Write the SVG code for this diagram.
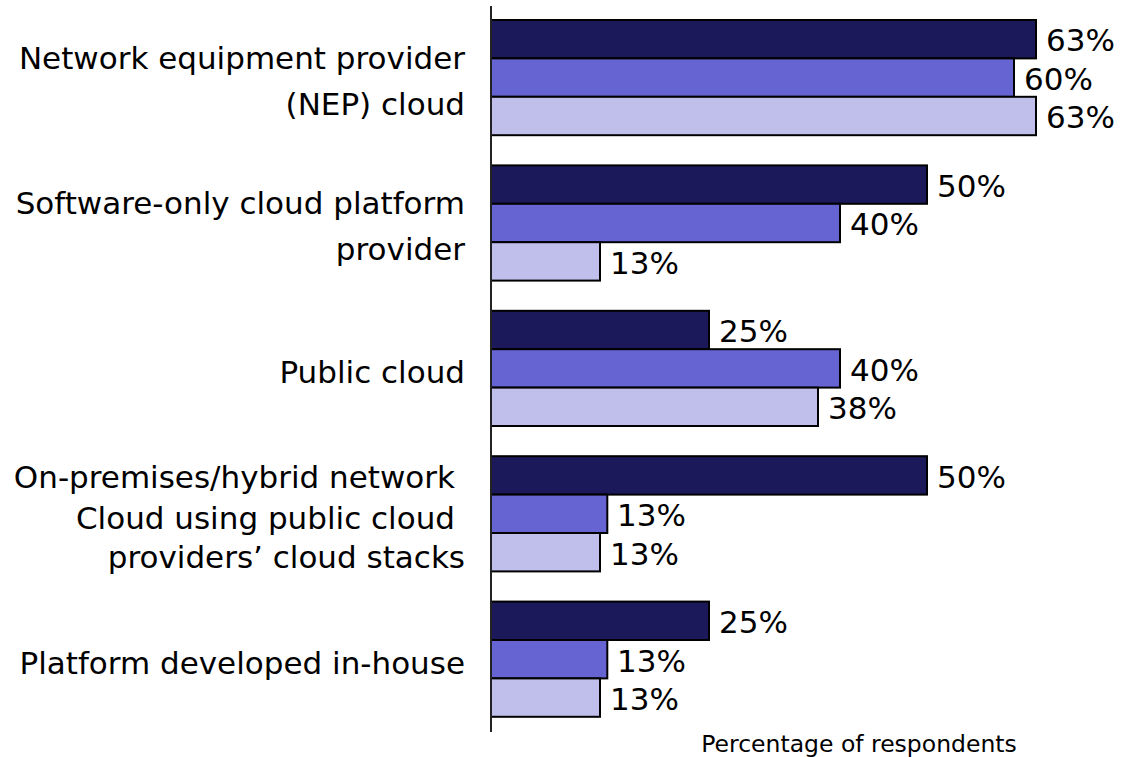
<svg xmlns="http://www.w3.org/2000/svg" width="1138" height="757" viewBox="0 0 1138 757">
<style>
text{font-family:"DejaVu Sans","Liberation Sans",sans-serif;fill:#000}
.cat{font-size:31px;text-anchor:end}
.val{font-size:31px}
.b1{fill:#1B1959;stroke:#000;stroke-width:2}
.b2{fill:#6663D2;stroke:#000;stroke-width:2}
.b3{fill:#C0BFEC;stroke:#000;stroke-width:2}
.axis{stroke:#222;stroke-width:2}
</style>
<rect width="1138" height="757" fill="#fff"/>
<g id="nep">
<text class="cat" x="465" y="69">Network equipment provider</text>
<text class="cat" x="465" y="115">(NEP) cloud</text>
<rect class="b1" x="491" y="20" width="545" height="38.4"/>
<rect class="b2" x="491" y="58.4" width="523" height="38.4"/>
<rect class="b3" x="491" y="96.8" width="545" height="38.4"/>
<text class="val" x="1046" y="51">63%</text>
<text class="val" x="1024" y="89.5">60%</text>
<text class="val" x="1046" y="128">63%</text>
</g>
<g id="software">
<text class="cat" x="465" y="214">Software-only cloud platform</text>
<text class="cat" x="465" y="260">provider</text>
<rect class="b1" x="491" y="165.4" width="436" height="38.4"/>
<rect class="b2" x="491" y="203.8" width="349" height="38.4"/>
<rect class="b3" x="491" y="242.2" width="109" height="38.4"/>
<text class="val" x="937" y="196.5">50%</text>
<text class="val" x="850" y="235">40%</text>
<text class="val" x="610" y="273.5">13%</text>
</g>
<g id="public">
<text class="cat" x="465" y="383">Public cloud</text>
<rect class="b1" x="491" y="310.8" width="218" height="38.4"/>
<rect class="b2" x="491" y="349.2" width="349" height="38.4"/>
<rect class="b3" x="491" y="387.6" width="327" height="38.4"/>
<text class="val" x="719" y="342">25%</text>
<text class="val" x="850" y="380.5">40%</text>
<text class="val" x="828" y="419">38%</text>
</g>
<g id="onprem">
<text class="cat" x="455" y="488">On-premises/hybrid network</text>
<text class="cat" x="455" y="529">Cloud using public cloud</text>
<text class="cat" x="465" y="568">providers’ cloud stacks</text>
<rect class="b1" x="491" y="456.2" width="436" height="38.4"/>
<rect class="b2" x="491" y="494.6" width="116.3" height="38.4"/>
<rect class="b3" x="491" y="533" width="109" height="38.4"/>
<text class="val" x="937" y="487.5">50%</text>
<text class="val" x="617" y="526">13%</text>
<text class="val" x="610" y="564.5">13%</text>
</g>
<g id="inhouse">
<text class="cat" x="465" y="674">Platform developed in-house</text>
<rect class="b1" x="491" y="601.6" width="218" height="38.4"/>
<rect class="b2" x="491" y="640" width="116.3" height="38.4"/>
<rect class="b3" x="491" y="678.4" width="109" height="38.4"/>
<text class="val" x="719" y="633">25%</text>
<text class="val" x="617" y="671.5">13%</text>
<text class="val" x="610" y="710">13%</text>
</g>
<g id="connectors">
<line class="axis" x1="491" y1="6" x2="491" y2="732"/>
</g>
<text x="859" y="752" font-size="23.5" text-anchor="middle">Percentage of respondents</text>
</svg>
